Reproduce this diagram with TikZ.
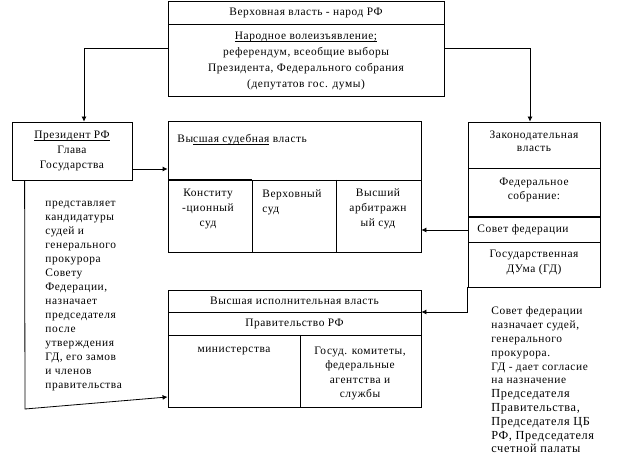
\documentclass[tikz,border=0pt]{standalone}
\usepackage{fontspec}
\setmainfont{Liberation Serif}[LetterSpace=5]
\usetikzlibrary{arrows.meta}
\newcommand\myul[1]{\setbox0\hbox{#1}\leavevmode\rlap{\rule[-2.2pt]{\wd0}{0.75pt}}\box0}
\begin{document}
\begin{tikzpicture}[x=1pt,y=-1pt,
  line width=0.8pt,
  box/.style={draw, rectangle, inner sep=0pt},
  txt/.style={inner sep=0pt, font=\fontsize{11.4}{15}\selectfont},
  arr/.style={-{Latex[length=5pt,width=5pt]}}]
\useasboundingbox (0,0) rectangle (625,470);
\fill[white] (0,0) rectangle (625,470);

% boxes
\node[box, minimum width=276pt, minimum height=95pt] (top) at (306,48.5) {};
\node[box, minimum width=120pt, minimum height=58pt] (pres) at (72,151) {};
\node[box, minimum width=253pt, minimum height=131pt] (jud) at (294.5,186.5) {};
\node[box, minimum width=132pt, minimum height=165pt] (leg) at (534,204.5) {};
\node[box, minimum width=253pt, minimum height=117pt] (exe) at (294.5,348.5) {};

% dividers
\draw (168,24) -- (444,24);
\draw (168,180) -- (421,180);
\draw[line width=1.3pt] (168,180) -- (252,180);
\draw (252,180) -- (252,252);
\draw (336,180) -- (336,252);
\draw (468,168) -- (600,168);
\draw[line width=1.4pt] (468,217) -- (600,217);
\draw (468,242) -- (600,242);
\draw (168,312) -- (421,312);
\draw (168,335) -- (421,335);
\draw (300,335) -- (300,407);

% texts
\node[txt] (t1) at (306,13) {Верховная власть - народ РФ};
\node[txt, align=center, font=\fontsize{11.4}{16}\selectfont] (t2) at (306,61)
  {\myul{Народное волеизъявление;}\\референдум, всеобщие выборы\\Президента, Федерального собрания\\(депутатов гос. думы)};
\node[txt, align=center] (t3) at (72,151) {\myul{Президент РФ}\\Глава\\Государства};
\node[txt, anchor=west] (t4) at (177,140) {Вы\myul{сшая судебная}\ власть};
\node[txt, align=center] (t5) at (208,209) {Конститу\\-ционный\\суд};
\node[txt, align=left, anchor=west] (t6) at (262,202.5) {Верховный\\суд};
\node[txt, align=center] (t7) at (378,209) {Высший\\арбитражн\\ый суд};
\node[txt, align=center, font=\fontsize{11.4}{13.5}\selectfont] (t8) at (534,141.5) {Законодательная\\власть};
\node[txt, align=center, font=\fontsize{11.4}{14}\selectfont] (t9) at (534,190) {Федеральное\\собрание:};
\node[txt, anchor=west] (t10) at (477,230) {Совет федерации};
\node[txt, align=center] (t11) at (534,262.5) {Государственная\\ДУма (ГД)};
\node[txt] (t12) at (294.5,301) {Высшая исполнительная власть};
\node[txt] (t13) at (294.5,324) {Правительство РФ};
\node[txt] (t14) at (234,351) {министерства};
\node[txt, align=center, font=\fontsize{11.4}{14.5}\selectfont] (t15) at (360,373.5) {Госуд. комитеты,\\федеральные\\агентства и\\службы};
\node[txt, align=left, anchor=west, font=\fontsize{11.4}{14}\selectfont] (t16) at (45,296)
  {представляет\\кандидатуры\\судей и\\генерального\\прокурора\\Совету\\Федерации,\\назначает\\председателя\\после\\утверждения\\ГД, его замов\\и членов\\правительства};
\node[txt, align=left, anchor=west, font=\fontsize{11.4}{13.8}\selectfont] (t17) at (491,380)
  {Совет федерации\\назначает судей,\\генерального\\прокурора.\\ГД - дает согласие\\на назначение\\{\fontsize{12.3}{13.8}\selectfont Председателя}\\{\fontsize{12.3}{13.8}\selectfont Правительства,}\\{\fontsize{12.3}{13.8}\selectfont Председателя ЦБ}\\{\fontsize{12.3}{13.8}\selectfont РФ, Председателя}\\{\fontsize{12.3}{13.8}\selectfont счетной палаты}};

% connectors
\coordinate (c1) at (25,409);
\draw[arr] (top.west) -| ([xshift=12pt]pres.north);
\draw[arr] (top.east) -| ([xshift=-4pt]leg.north);
\draw[arr] ([yshift=-18pt]pres.east) -- ([yshift=-18pt]pres.east -| jud.west);
\draw[arr] ([xshift=13pt]pres.south west) -- (c1) -- ([yshift=-48.5pt]exe.west);
\draw[arr] ([yshift=-25.5pt]leg.west) -- ([yshift=-25.5pt]leg.west -| jud.east);
\draw[arr] (leg.south west) |- ([yshift=36.5pt]exe.east);
\end{tikzpicture}
\end{document}
